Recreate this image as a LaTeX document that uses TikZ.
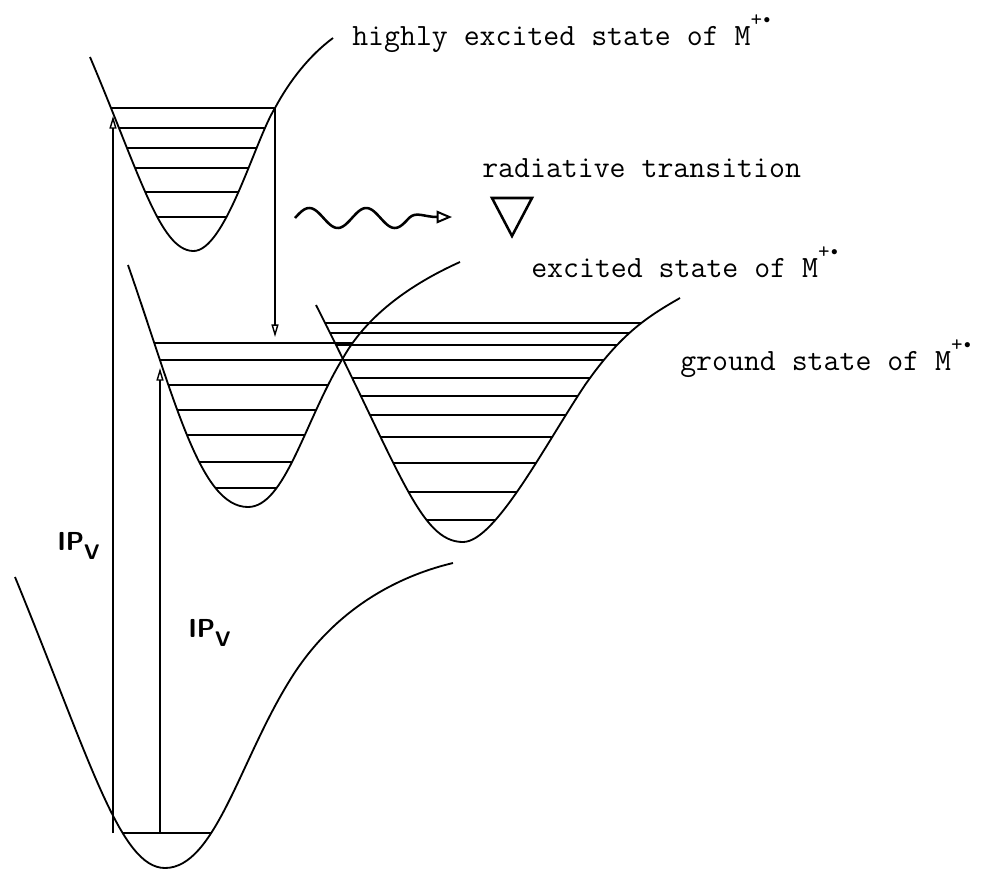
\documentclass[tikz,border=0pt]{standalone}
\usepackage{tikz}
\usetikzlibrary{arrows.meta}
\newcommand{\Mrad}{M\raisebox{0.6em}{\fontsize{16}{16}\selectfont+\kern1pt\raisebox{0.15em}{\scalebox{0.55}{$\bullet$}}}}
\newcommand{\IPv}{IP\raisebox{-0.38em}{\fontsize{15}{15}\selectfont V}}

\begin{document}
\begin{tikzpicture}[
    x=0.025cm, y=-0.025cm,
    pes/.style={line width=1.3pt, line join=round},
    lvl/.style={line width=1pt},
    trans/.style={-{Triangle[open, length=9pt, width=5pt]}, line width=1pt},
    photon/.style={-{Triangle[open, length=11pt, width=9pt, line width=1.4pt]}, line width=1.8pt},
    lbl/.style={font=\fontsize{22}{26}\selectfont\ttfamily, anchor=base west, inner sep=0pt},
    iplbl/.style={font=\fontsize{18.5}{22}\selectfont\sffamily\bfseries, anchor=base west, inner sep=0pt}
]
\useasboundingbox (0,0) rectangle (986,870);

% potential energy curves
\path[save path=\wellhx] (90,57) .. controls (140,175) and (160,250) .. (193,251)
    .. controls (225,252) and (255,140) .. (275,108)
    .. controls (290,80) and (310,55) .. (333,38);
\path[save path=\wellex] (128,265) .. controls (175,400) and (200,507) .. (248,507)
    .. controls (285,507) and (305,420) .. (343,358)
    .. controls (370,310) and (420,280) .. (460,262);
\path[save path=\wellgs] (316,305) .. controls (400,470) and (420,542) .. (463,542)
    .. controls (495,542) and (545,445) .. (585,385)
    .. controls (620,335) and (645,318) .. (680,298);
\path[save path=\wellm] (15,577) .. controls (90,760) and (120,868) .. (165,868)
    .. controls (215,868) and (240,760) .. (290,680)
    .. controls (330,615) and (390,578) .. (453,563);

% vibrational levels
\begin{scope}
  \clip[use path=\wellhx];
  \foreach \y in {108,128,148,168,192,217}
    \draw[lvl] (0,\y) -- (986,\y);
\end{scope}
\begin{scope}
  \clip[use path=\wellex];
  \foreach \y in {343,360,385,410,435,462,488}
    \draw[lvl] (0,\y) -- (986,\y);
\end{scope}
\begin{scope}
  \clip[use path=\wellgs];
  \foreach \y in {323,333,345,360,378,396,415,437,463,492,520}
    \draw[lvl] (0,\y) -- (986,\y);
\end{scope}
\begin{scope}
  \clip[use path=\wellm];
  \draw[lvl] (0,833) -- (986,833);
\end{scope}

\draw[pes, use path=\wellhx];
\draw[pes, use path=\wellex];
\draw[pes, use path=\wellgs];
\draw[pes, use path=\wellm];

% transitions
\coordinate (m0a) at (113,833);
\coordinate (m0b) at (160,833);
\coordinate (hxtop) at (113,116);
\coordinate (hxdown) at (275,108);
\coordinate (extop) at (275,337);
\coordinate (exup) at (160,368);
\draw[trans] (m0a) -- (hxtop);
\draw[trans] (m0b) -- (exup);
\draw[trans] (hxdown) -- (extop);

% emission
\coordinate (wtip) at (452,217);
\draw[photon] plot[domain=0:2, samples=80, smooth] ({295+57*\x},{218-10*sin(360*\x)})
    .. controls (416,211) and (424,217) .. (wtip);
\draw[line width=1.8pt, line join=miter] (492,198) -- (532,198) -- (512,236) -- cycle;

% labels
\node[lbl] (hxlbl) at (352,45) {highly excited state of \Mrad};
\node[lbl] (radlbl) at (482,177) {radiative transition};
\node[lbl] (exlbl) at (531,277) {excited state of \Mrad};
\node[lbl] (gslbl) at (680,370) {ground state of \Mrad};
\node[iplbl] (ipa) at (57,550) {\IPv};
\node[iplbl] (ipb) at (188,637) {\IPv};

\end{tikzpicture}
\end{document}
